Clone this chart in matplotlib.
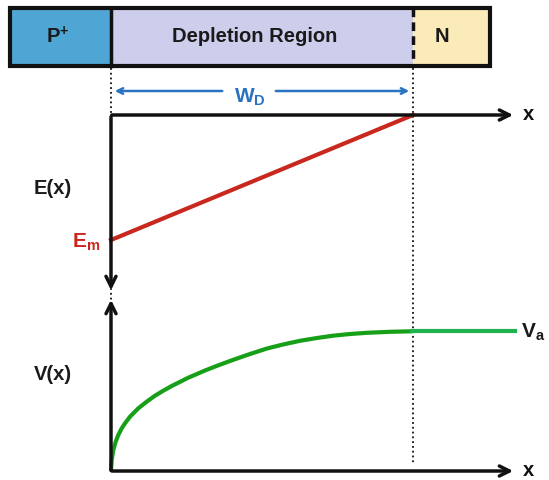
import matplotlib.pyplot as plt
from matplotlib.patches import Rectangle

plt.rcParams['font.family'] = ['Liberation Sans', 'DejaVu Sans']
plt.rcParams['mathtext.fontset'] = 'custom'
plt.rcParams['mathtext.rm'] = 'Liberation Sans:bold'
plt.rcParams['mathtext.bf'] = 'Liberation Sans:bold'
plt.rcParams['mathtext.it'] = 'Liberation Sans:bold'

# layout in pixel units (x to the right, y downwards)
regions = ['P$^{+}$', 'Depletion Region', 'N']
region_edges = [10, 111, 413, 490]
region_label_x = [58, 255, 442]
region_colors = ['#4fa6d4', '#cdcdec', '#fbebb9']

# E(x): linear from E_m at x=0 up to 0 at x=W_D
e_x = [111, 413]
e_y = [240, 115]

# V(x)
v_x = [111, 111.7, 113.3, 115.7, 118.3, 121.7, 125, 130, 138.3, 146.7, 155, 163.3, 171.7,
       188.3, 205, 217, 233, 250, 267, 283, 300, 317, 333, 350, 367, 390, 412]
v_y = [470, 460, 450, 441.7, 435, 428.3, 423.3, 416.7, 408.3, 401.7, 395.7, 390.7, 386,
       377.7, 370.5, 365.8, 359.9, 354, 348.5, 344.5, 340.8, 338, 335.7, 334, 332.8, 331.8, 331.3]
va_x = [412, 515]
va_y = [331, 331]

fig = plt.figure(figsize=(5.49, 4.8), dpi=100)
ax = fig.add_axes([0, 0, 1, 1])
ax.set_xlim(0, 549)
ax.set_ylim(480, 0)
ax.axis('off')

# top bar
for i in range(3):
    x0, x1 = region_edges[i], region_edges[i + 1]
    ax.add_patch(Rectangle((x0, 8), x1 - x0, 58, facecolor=region_colors[i], edgecolor='none'))
    ax.text(region_label_x[i], 37, regions[i], ha='center', va='center', fontsize=14.5, fontweight='bold', color='#1a1a1a')
ax.add_patch(Rectangle((10, 8), 480, 58, facecolor='none', edgecolor='#111111', lw=3))
ax.plot([111, 111], [8, 66], color='#111111', lw=2.5)
ax.plot([413, 413], [8, 66], color='#111111', lw=2.5, ls=(0, (2.5, 1.5)))

# dotted guides
ax.plot([111, 111], [68, 300], color='#111111', lw=1.3, ls=':')
ax.plot([413, 413], [68, 465], color='#111111', lw=1.3, ls=':')

# W_D arrow
blue = '#2a73c0'
ax.annotate('', xy=(112, 91), xytext=(225, 91), arrowprops=dict(arrowstyle='->', color=blue, lw=1.8))
ax.annotate('', xy=(412, 91), xytext=(273, 91), arrowprops=dict(arrowstyle='->', color=blue, lw=1.8))
ax.text(250, 97, '$\\mathbf{W_D}$', ha='center', va='center', fontsize=15, color=blue)

# E axes
ax.annotate('', xy=(516, 115), xytext=(109, 115), arrowprops=dict(arrowstyle='->', color='#111111', lw=2.5, mutation_scale=18))
ax.annotate('', xy=(111, 293), xytext=(111, 114), arrowprops=dict(arrowstyle='->', color='#111111', lw=2.5, mutation_scale=18))
ax.text(528, 114, 'x', ha='center', va='center', fontsize=14.5, fontweight='bold', color='#111111')
ax.text(53, 188, 'E(x)', ha='center', va='center', fontsize=14.5, fontweight='bold', color='#1a1a1a')
ax.plot(e_x, e_y, color='#c8281e', lw=3)
ax.text(86, 242, '$\\mathbf{E_m}$', ha='center', va='center', fontsize=15, color='#c8281e')

# V axes
ax.annotate('', xy=(111, 297), xytext=(111, 473), arrowprops=dict(arrowstyle='->', color='#111111', lw=2.5, mutation_scale=18))
ax.annotate('', xy=(516, 471), xytext=(109, 471), arrowprops=dict(arrowstyle='->', color='#111111', lw=2.5, mutation_scale=18))
ax.text(528, 470, 'x', ha='center', va='center', fontsize=14.5, fontweight='bold', color='#111111')
ax.text(53, 374, 'V(x)', ha='center', va='center', fontsize=14.5, fontweight='bold', color='#1a1a1a')
ax.plot(v_x, v_y, color='#17a017', lw=3, solid_capstyle='round', solid_joinstyle='round')
ax.plot(va_x, va_y, color='#1eb34f', lw=3)
ax.text(533, 332, '$\\mathbf{V_a}$', ha='center', va='center', fontsize=15, color='#1a1a1a')

plt.savefig('out.png', dpi=100)
